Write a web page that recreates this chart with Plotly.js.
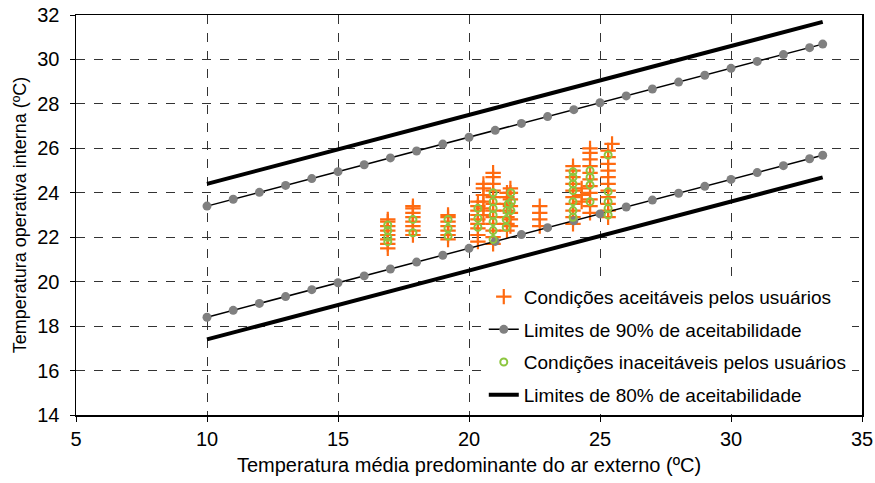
<!DOCTYPE html>
<html>
<head>
<meta charset="utf-8">
<script src="https://cdn.plot.ly/plotly-3.0.1.min.js"></script>
<style>html,body{margin:0;padding:0;background:#fff;}#chart{width:875px;height:483px;}</style>
</head>
<body>
<div id="chart"></div>
<script>
// Condições aceitáveis pelos usuários
const aceitX = [
  16.9,16.9,16.9,16.9,16.9,16.9,16.9,16.9,
  17.86,17.86,17.86,17.86,17.86,17.86,17.86,17.86,
  19.2,19.2,19.2,19.2,19.2,19.2,19.2,
  20.34,20.34,20.34,20.34,20.34,20.34,20.34,20.34,20.34,
  20.55,20.55,20.55,20.55,20.55,20.55,
  20.92,20.92,20.92,20.92,20.92,20.92,20.92,20.92,20.92,20.92,20.92,20.92,
  21.45,21.45,21.45,21.45,21.45,21.45,21.45,
  21.58,21.58,21.58,21.58,21.58,21.58,21.58,
  22.7,22.7,22.7,22.7,
  23.97,23.97,23.97,23.97,23.97,23.97,23.97,23.97,23.97,23.97,
  24.3,24.3,24.3,
  24.62,24.62,24.62,24.62,24.62,24.62,24.62,24.62,24.62,24.62,24.62,
  25.31,25.31,25.31,25.31,25.31,25.31,25.31,25.31,25.31,25.31,25.31,
  25.46
];
const aceitY = [
  21.5,21.7,21.9,22.1,22.3,22.5,22.7,22.8,
  22.1,22.3,22.5,22.7,22.9,23.1,23.3,23.4,
  21.9,22.1,22.3,22.5,22.7,22.9,23.0,
  21.8,22.1,22.4,22.6,22.8,23.0,23.2,23.4,23.6,
  23.0,23.3,23.6,23.9,24.2,24.4,
  21.7,22.0,22.3,22.6,22.9,23.2,23.5,23.8,24.1,24.4,24.7,24.9,
  22.3,22.6,22.9,23.2,23.5,23.8,24.0,
  22.5,22.8,23.1,23.4,23.7,24.0,24.2,
  22.5,22.8,23.1,23.4,
  22.6,22.9,23.2,23.5,23.8,24.1,24.4,24.7,25.0,25.2,
  23.6,23.9,24.2,
  23.1,23.4,23.7,24.0,24.3,24.6,24.9,25.2,25.5,25.8,26.0,
  22.9,23.2,23.5,23.8,24.1,24.4,24.7,25.0,25.3,25.6,25.9,
  26.2
];
// Condições inaceitáveis pelos usuários
const inaceitX = [
  16.9,16.9,16.9,16.9,
  17.86,17.86,
  19.2,19.2,19.2,
  20.34,20.34,20.34,
  20.92,20.92,20.92,20.92,20.92,20.92,20.92,
  21.42,21.42,21.45,21.5,
  21.6,21.62,21.6,
  23.97,23.97,23.97,23.97,23.97,23.97,23.97,
  24.62,24.62,24.62,24.62,
  25.31,25.31,25.31,25.31,25.31
];
const inaceitY = [
  21.8,22.0,22.3,22.55,
  22.2,22.8,
  22.05,22.4,22.8,
  22.45,22.85,23.3,
  21.9,22.3,22.7,23.0,23.3,23.6,24.0,
  22.45,22.8,23.2,23.5,
  23.2,23.6,24.0,
  22.9,23.2,23.6,24.1,24.4,24.7,24.95,
  23.6,24.35,24.7,25.0,
  23.0,23.3,23.6,24.05,25.7
];
// Limites de 90% de aceitabilidade
const lim90X = [10,11,12,13,14,15,16,17,18,19,20,21,22,23,24,25,26,27,28,29,30,31,32,33,33.5];
const lim90Sup = [23.4,23.71,24.02,24.33,24.64,24.95,25.26,25.57,25.88,26.19,26.5,26.81,27.12,27.43,27.74,28.05,28.36,28.67,28.98,29.29,29.6,29.91,30.22,30.53,30.69];
const lim90Inf = [18.4,18.71,19.02,19.33,19.64,19.95,20.26,20.57,20.88,21.19,21.5,21.81,22.12,22.43,22.74,23.05,23.36,23.67,23.98,24.29,24.6,24.91,25.22,25.53,25.69];
// Limites de 80% de aceitabilidade
const lim80X = [10,33.5];
const lim80Sup = [24.4,31.69];
const lim80Inf = [17.4,24.69];

const xTicks = [5,10,15,20,25,30,35];
const yTicks = [14,16,18,20,22,24,26,28,30,32];

const FONT = 'Liberation Sans, Arial, sans-serif';

const traces = [
  {x: aceitX, y: aceitY, type: 'scatter', mode: 'markers', name: 'Condições aceitáveis pelos usuários',
   legendgroup: 'a', marker: {symbol: 'cross-thin-open', size: 11, color: '#FF6A10', line: {color: '#FF6A10', width: 2.2}}},
  {x: lim90X, y: lim90Sup, type: 'scatter', mode: 'lines+markers', name: 'Limites de 90% de aceitabilidade',
   legendgroup: 'b', line: {color: '#000', width: 1.5}, marker: {color: '#808080', size: 9}},
  {x: lim90X, y: lim90Inf, type: 'scatter', mode: 'lines+markers', name: 'Limites de 90% de aceitabilidade',
   legendgroup: 'b', showlegend: false, line: {color: '#000', width: 1.5}, marker: {color: '#808080', size: 9}},
  {x: inaceitX, y: inaceitY, type: 'scatter', mode: 'markers', name: 'Condições inaceitáveis pelos usuários',
   legendgroup: 'c', marker: {symbol: 'circle-open', size: 7, color: '#8CC63F', line: {color: '#8CC63F', width: 2}}},
  {x: lim80X, y: lim80Sup, type: 'scatter', mode: 'lines', name: 'Limites de 80% de aceitabilidade',
   legendgroup: 'd', line: {color: '#000', width: 4}},
  {x: lim80X, y: lim80Inf, type: 'scatter', mode: 'lines', name: 'Limites de 80% de aceitabilidade',
   legendgroup: 'd', showlegend: false, line: {color: '#000', width: 4}}
];

const layout = {
  width: 875, height: 483,
  margin: {l: 76, r: 13, t: 15, b: 68},
  paper_bgcolor: '#fff', plot_bgcolor: '#fff',
  font: {family: FONT, size: 20, color: '#000'},
  showlegend: true,
  legend: {
    x: 0.987, xanchor: 'right', y: 0.003, yanchor: 'bottom',
    bgcolor: '#fff', borderwidth: 0,
    traceorder: 'grouped', tracegroupgap: 5,
    itemwidth: 30,
    font: {family: FONT, size: 19, color: '#000'}
  },
  xaxis: {
    range: [5, 35], tickvals: xTicks, ticktext: xTicks.map(String),
    showline: true, linecolor: '#000', linewidth: 1.5, mirror: true,
    ticks: 'outside', ticklen: 5, tickcolor: '#000',
    tickfont: {family: FONT, size: 20},
    showgrid: true, gridcolor: '#333', griddash: 'dash', gridwidth: 1,
    zeroline: false,
    title: {text: 'Temperatura média predominante do ar externo (ºC)', font: {family: FONT, size: 20}, standoff: 9}
  },
  yaxis: {
    range: [14, 32], tickvals: yTicks, ticktext: yTicks.map(String),
    showline: true, linecolor: '#000', linewidth: 1.5, mirror: true,
    ticks: 'outside', ticklen: 5, tickcolor: '#000',
    tickfont: {family: FONT, size: 20},
    ticklabelstandoff: 6,
    showgrid: true, gridcolor: '#333', griddash: 'dash', gridwidth: 1,
    zeroline: false,
    title: {text: 'Temperatura operativa interna (ºC)', font: {family: FONT, size: 18}, standoff: 6}
  }
};

Plotly.newPlot('chart', traces, layout, {displayModeBar: false, staticPlot: true});
</script>
</body>
</html>
